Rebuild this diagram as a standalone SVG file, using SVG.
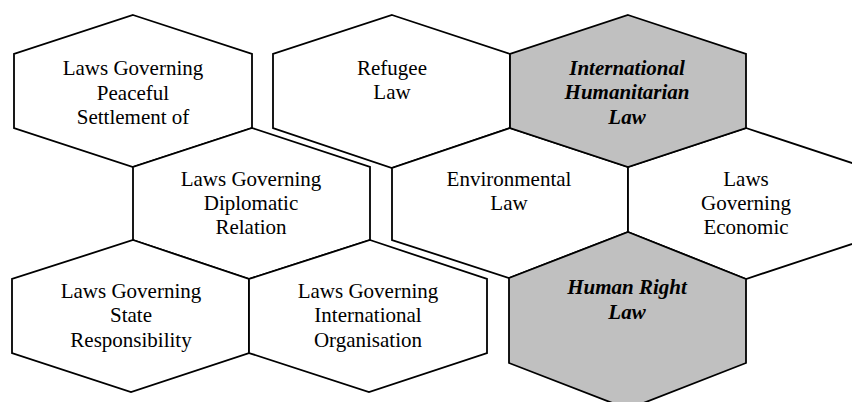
<svg xmlns="http://www.w3.org/2000/svg" width="852" height="402" viewBox="0 0 852 402">
<style>
.hex{fill:#ffffff;stroke:#000000;stroke-width:1.8;stroke-linejoin:miter}
.hex.grey{fill:#c0c0c0}
.t{font-family:"Liberation Serif","Times New Roman",serif;font-size:21px;fill:#000000;text-anchor:middle}
.bi{font-weight:bold;font-style:italic}
</style>
<rect x="0" y="0" width="852" height="402" fill="#ffffff"/>
<g id="connectors"/>
<g id="peaceful">
<polygon class="hex" points="133,15 252,54 252,128 133,167 14,128 14,54"/>
<text class="t" x="133" y="75">Laws Governing</text>
<text class="t" x="133" y="99.5">Peaceful</text>
<text class="t" x="133" y="124">Settlement of</text>
</g>
<g id="diplomatic">
<polygon class="hex" points="252,128 370,167 370,240 249,279 133,240 133,167"/>
<text class="t" x="251" y="186">Laws Governing</text>
<text class="t" x="251" y="210">Diplomatic</text>
<text class="t" x="251" y="234">Relation</text>
</g>
<g id="state">
<polygon class="hex" points="133,240 249,279 249,353 131,392 12,353 12,279"/>
<text class="t" x="131" y="298">Laws Governing</text>
<text class="t" x="131" y="322">State</text>
<text class="t" x="131" y="347">Responsibility</text>
</g>
<g id="organisation">
<polygon class="hex" points="370,240 487,279 487,353 369,392 249,353 249,279"/>
<text class="t" x="368" y="298">Laws Governing</text>
<text class="t" x="368" y="322">International</text>
<text class="t" x="368" y="347">Organisation</text>
</g>
<g id="refugee">
<polygon class="hex" points="392,15 510,54 510,128 392,168 273,128 273,54"/>
<text class="t" x="392" y="75">Refugee</text>
<text class="t" x="392" y="99">Law</text>
</g>
<g id="environmental">
<polygon class="hex" points="510,128 628,167 628,232 509,278 392,240 392,168"/>
<text class="t" x="509" y="186">Environmental</text>
<text class="t" x="509" y="210">Law</text>
</g>
<g id="economic">
<polygon class="hex" points="746,128 864,167 864,240 746,279 628,232 628,167"/>
<text class="t" x="746" y="186">Laws</text>
<text class="t" x="746" y="210">Governing</text>
<text class="t" x="746" y="234">Economic</text>
</g>
<g id="humanitarian">
<polygon class="hex grey" points="628,15 746,54 746,128 628,167 510,128 510,54"/>
<text class="t bi" x="627" y="75">International</text>
<text class="t bi" x="627" y="99">Humanitarian</text>
<text class="t bi" x="627" y="124">Law</text>
</g>
<g id="humanright">
<polygon class="hex grey" points="628,232 746,279 746,363 628,409 509,363 509,278"/>
<text class="t bi" x="627" y="294">Human Right</text>
<text class="t bi" x="627" y="319">Law</text>
</g>
</svg>
